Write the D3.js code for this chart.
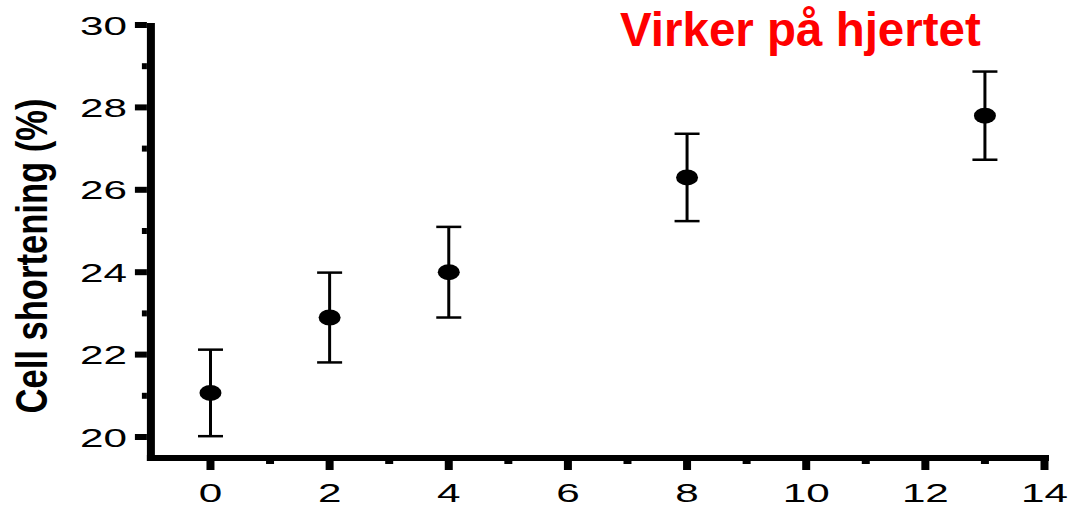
<!DOCTYPE html>
<html>
<head>
<meta charset="utf-8">
<script src="https://cdn.jsdelivr.net/npm/d3@7"></script>
<style>
  html, body { margin: 0; padding: 0; background: #fff; }
  svg { display: block; }
</style>
</head>
<body>
<svg id="chart" width="1076" height="512"></svg>
<script>
// data
const days = [0, 2, 4, 8, 13];
const shortening = [21.07, 22.9, 24.0, 26.3, 27.8];
const sem = [1.05, 1.09, 1.1, 1.06, 1.07];

const xMajor = [0, 2, 4, 6, 8, 10, 12, 14];
const xMinor = [1, 3, 5, 7, 9, 11, 13];
const yMajor = [20, 22, 24, 26, 28, 30];
const yMinor = [21, 23, 25, 27, 29];

const titleText = "Virker på hjertet";
const yLabelText = "Cell shortening (%)";

const svg = d3.select("#chart");
const font = "'Liberation Sans', Arial, Helvetica, sans-serif";

// the original picture is stretched sideways, text gets a scaleX
const labelStretch = 1.65;
const yTitleStretch = 1.29;

const x = d3.scaleLinear().domain([-1, 14]).range([150.9, 1044.5]);
const y = d3.scaleLinear().domain([19.5, 30]).range([457.6, 25]);

const axisX = x(-1);    // where the y axis sits
const axisY = 458;      // where the x axis sits

// axis lines
svg.append("line")
    .attr("x1", axisX).attr("x2", axisX)
    .attr("y1", y(30) - 2).attr("y2", axisY + 3)
    .attr("stroke", "#000").attr("stroke-width", 8);

svg.append("line")
    .attr("x1", axisX - 4).attr("x2", x(14) + 4.5)
    .attr("y1", axisY).attr("y2", axisY)
    .attr("stroke", "#000").attr("stroke-width", 6);

// y ticks
svg.selectAll(".ymaj").data(yMajor).enter().append("line")
    .attr("x1", axisX - 16).attr("x2", axisX - 4)
    .attr("y1", d => y(d)).attr("y2", d => y(d))
    .attr("stroke", "#000").attr("stroke-width", 6);

svg.selectAll(".ymin").data(yMinor).enter().append("line")
    .attr("x1", axisX - 9).attr("x2", axisX - 4)
    .attr("y1", d => y(d)).attr("y2", d => y(d))
    .attr("stroke", "#000").attr("stroke-width", 6);

svg.selectAll(".ylab").data(yMajor).enter().append("text")
    .attr("transform", d => `translate(${axisX - 24},${y(d) + 9.5}) scale(${labelStretch},1)`)
    .attr("text-anchor", "end")
    .attr("font-family", font)
    .attr("font-size", 25.6)
    .attr("fill", "#000")
    .text(d => d);

// x ticks
svg.selectAll(".xmaj").data(xMajor).enter().append("line")
    .attr("x1", d => x(d)).attr("x2", d => x(d))
    .attr("y1", axisY + 3).attr("y2", axisY + 12)
    .attr("stroke", "#000").attr("stroke-width", 8);

svg.selectAll(".xmin").data(xMinor).enter().append("line")
    .attr("x1", d => x(d)).attr("x2", d => x(d))
    .attr("y1", axisY + 3).attr("y2", axisY + 6)
    .attr("stroke", "#000").attr("stroke-width", 8);

svg.selectAll(".xlab").data(xMajor).enter().append("text")
    .attr("transform", d => `translate(${x(d)},${502}) scale(${labelStretch},1)`)
    .attr("text-anchor", "middle")
    .attr("font-family", font)
    .attr("font-size", 25.6)
    .attr("fill", "#000")
    .text(d => d);

// y axis title
svg.append("text")
    .attr("transform", `translate(47,256) scale(${yTitleStretch},1) rotate(-90)`)
    .attr("text-anchor", "middle")
    .attr("font-family", font)
    .attr("font-weight", "bold")
    .attr("font-size", 34.6)
    .attr("fill", "#000")
    .text(yLabelText);

// error bars
const pts = days.map((d, i) => ({ day: d, mean: shortening[i], err: sem[i] }));

const bars = svg.append("g");
bars.selectAll(".stem").data(pts).enter().append("line")
    .attr("x1", d => x(d.day)).attr("x2", d => x(d.day))
    .attr("y1", d => y(d.mean + d.err)).attr("y2", d => y(d.mean - d.err))
    .attr("stroke", "#000").attr("stroke-width", 3);

bars.selectAll(".capTop").data(pts).enter().append("line")
    .attr("x1", d => x(d.day) - 12.5).attr("x2", d => x(d.day) + 12.5)
    .attr("y1", d => y(d.mean + d.err)).attr("y2", d => y(d.mean + d.err))
    .attr("stroke", "#000").attr("stroke-width", 2.5);

bars.selectAll(".capBot").data(pts).enter().append("line")
    .attr("x1", d => x(d.day) - 12.5).attr("x2", d => x(d.day) + 12.5)
    .attr("y1", d => y(d.mean - d.err)).attr("y2", d => y(d.mean - d.err))
    .attr("stroke", "#000").attr("stroke-width", 2.5);

// dots (ellipses, the picture is stretched)
svg.selectAll(".dot").data(pts).enter().append("ellipse")
    .attr("cx", d => x(d.day))
    .attr("cy", d => y(d.mean))
    .attr("rx", 11).attr("ry", 8)
    .attr("fill", "#000");

// red title
svg.append("text")
    .attr("x", 620).attr("y", 46)
    .attr("font-family", font)
    .attr("font-weight", "bold")
    .attr("font-size", 47.5)
    .attr("fill", "#ff0000")
    .text(titleText);
</script>
</body>
</html>
